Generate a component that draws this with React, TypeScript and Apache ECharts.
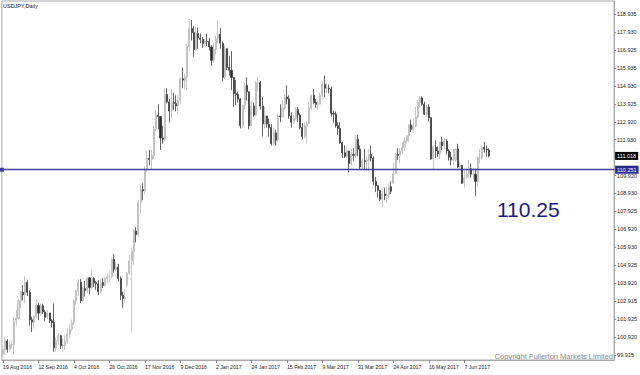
import React, { useEffect, useRef } from 'react';
import * as echarts from 'echarts';

// x-axis tick labels (one every 16 daily bars, MT4 style)
const tickLabels = [
  '19 Aug 2016', '12 Sep 2016', '4 Oct 2016', '26 Oct 2016', '17 Nov 2016', '9 Dec 2016',
  '2 Jan 2017', '24 Jan 2017', '15 Feb 2017', '9 Mar 2017', '31 Mar 2017', '24 Apr 2017',
  '16 May 2017', '7 Jun 2017',
];
const barsPerTick = 16;
const totalSlots = 276;

// y-axis tick values as printed on the price scale
const yTicks = [
  99.915, 100.92, 101.925, 102.915, 103.92, 104.925, 105.93, 106.92, 107.925, 108.93,
  109.92, 111.93, 112.92, 113.925, 114.93, 115.935, 116.925, 117.93, 118.935,
];

const levelLine = 110.251;
const lastPrice = 111.018;

// USDJPY daily OHLC, 19 Aug 2016 .. 22 Jun 2017
const open = [
  99.95, 100.2, 100.7, 100.23, 100.49, 100.5, 101.85, 101.95, 102.95, 103.42,
  103.27, 103.97, 103.42, 101.88, 101.75, 102.07, 102.68, 102.25, 102.66, 102.32,
  102.02, 102.26, 101.83, 101.72, 100.32, 100.72, 100.99, 100.42, 100.45, 100.68,
  101.07, 101.35, 101.72, 102.92, 103.48, 103.98, 102.94, 103.62, 103.52, 104.22,
  103.68, 104.18, 103.95, 103.88, 103.45, 103.95, 103.8, 104.18, 104.28, 104.3,
  105.25, 104.7, 104.82, 104.18, 103.25, 103.07, 103.8, 104.45, 105.17, 105.7,
  106.83, 106.62, 108.43, 109.15, 109.07, 110.23, 110.88, 110.82, 111.04, 112.53,
  113.3, 113.22, 112.02, 111.95, 114.45, 114.03, 113.52, 114.0, 113.95, 113.8,
  114.1, 115.32, 115.25, 115.42, 117.13, 118.12, 117.9, 116.95, 117.85, 117.6,
  117.52, 117.28, 117.42, 117.4, 117.1, 116.35, 116.95, 117.55, 117.8, 117.3,
  115.4, 117.0, 115.95, 115.8, 115.4, 114.5, 114.45, 114.2, 112.7, 113.85,
  114.95, 114.6, 112.7, 113.8, 113.3, 115.1, 115.1, 113.8, 112.8, 113.25,
  112.8, 112.6, 111.7, 112.3, 111.9, 113.25, 113.2, 113.7, 114.3, 114.2,
  113.25, 112.9, 113.1, 113.6, 113.3, 112.6, 112.1, 112.7, 112.8, 113.7,
  114.4, 114.0, 113.9, 113.9, 114.4, 115.0, 114.8, 114.8, 114.75, 113.4,
  113.35, 112.7, 112.55, 111.75, 111.2, 111.0, 111.3, 110.6, 111.1, 111.05,
  111.95, 111.4, 110.4, 110.75, 110.7, 110.8, 111.1, 110.9, 109.6, 109.35,
  109.1, 108.6, 108.9, 108.8, 108.85, 109.3, 109.5, 110.05, 111.1, 111.05,
  111.3, 111.5, 111.85, 112.15, 112.75, 112.5, 112.7, 113.2, 114.0, 114.25,
  113.9, 113.35, 113.75, 113.15, 110.85, 111.5, 111.3, 111.15, 111.8, 111.6,
  111.85, 111.3, 110.95, 110.8, 110.8, 111.4, 110.4, 110.5, 109.5, 109.8,
  110.0, 110.3, 110.0, 110.0, 109.6, 110.9, 110.9, 111.5, 111.4, 111.35,
];
const close = [
  100.22, 100.72, 100.23, 100.49, 100.5, 101.82, 101.95, 102.95, 103.42, 103.27,
  103.97, 103.42, 101.88, 101.75, 102.07, 102.68, 102.25, 102.66, 102.32, 102.02,
  102.26, 101.83, 101.72, 100.32, 100.72, 100.99, 100.42, 100.45, 100.68, 101.07,
  101.35, 101.72, 102.92, 103.48, 103.98, 102.94, 103.62, 103.52, 104.22, 103.68,
  104.18, 103.95, 103.88, 103.45, 103.95, 103.8, 104.18, 104.28, 104.3, 105.25,
  104.7, 104.82, 104.18, 103.25, 103.07, 103.12, 104.45, 105.17, 105.7, 106.83,
  106.62, 108.43, 109.15, 109.07, 110.23, 110.88, 110.82, 111.04, 112.53, 113.3,
  113.22, 112.02, 111.95, 114.45, 114.03, 113.52, 114.0, 113.95, 113.8, 114.1,
  115.32, 115.25, 115.42, 117.13, 118.12, 117.9, 116.95, 117.85, 117.6, 117.52,
  117.28, 117.42, 117.4, 117.1, 116.35, 116.95, 117.55, 117.8, 117.3, 115.4,
  117.0, 115.95, 115.8, 115.4, 114.5, 114.45, 114.2, 112.7, 113.85, 114.95,
  114.6, 112.7, 113.8, 113.3, 115.1, 115.1, 113.8, 112.8, 113.25, 112.8,
  112.6, 111.7, 112.3, 111.9, 113.25, 113.2, 113.7, 114.3, 114.2, 113.25,
  112.9, 113.1, 113.6, 113.3, 112.6, 112.1, 112.7, 112.8, 113.7, 114.4,
  114.0, 113.9, 113.9, 114.4, 115.0, 114.8, 114.8, 114.75, 113.4, 113.35,
  112.7, 112.55, 111.75, 111.2, 111.0, 111.3, 110.6, 111.1, 111.05, 111.95,
  111.4, 110.4, 110.75, 110.7, 110.8, 111.1, 110.9, 109.6, 109.35, 109.1,
  108.6, 108.9, 108.8, 108.85, 109.3, 109.05, 110.05, 111.1, 111.05, 111.3,
  111.5, 111.85, 112.15, 112.75, 112.5, 112.7, 113.2, 114.0, 114.25, 113.9,
  113.35, 113.75, 113.15, 110.85, 111.5, 111.3, 111.15, 111.8, 111.6, 111.85,
  111.3, 110.95, 110.8, 110.8, 111.4, 110.4, 110.5, 109.5, 109.8, 110.0,
  110.3, 110.0, 110.0, 109.6, 110.9, 110.9, 111.5, 111.4, 111.35, 111.02,
];
const low = [
  99.78, 99.95, 100.05, 100.12, 100.28, 99.97, 101.55, 101.9, 102.52, 102.95,
  102.8, 103.2, 101.55, 101.2, 101.4, 101.95, 101.85, 102.1, 102.2, 101.82,
  101.9, 101.7, 101.45, 100.1, 100.1, 100.45, 100.25, 100.08, 100.2, 100.55,
  100.85, 101.25, 101.6, 102.7, 103.2, 102.8, 102.85, 103.18, 103.35, 103.3,
  103.58, 103.7, 103.55, 103.25, 103.35, 103.65, 103.75, 103.9, 103.98, 104.2,
  104.5, 104.58, 104.02, 102.98, 102.55, 102.85, 103.7, 104.4, 101.2, 104.95,
  106.2, 106.5, 107.8, 108.55, 108.9, 110.1, 110.5, 110.25, 110.85, 112.4,
  112.5, 111.35, 111.7, 111.85, 113.95, 112.88, 113.1, 113.6, 113.5, 113.4,
  113.9, 114.8, 114.75, 114.7, 116.85, 117.45, 116.55, 116.9, 117.0, 117.3,
  117.05, 117.15, 117.15, 116.9, 116.05, 116.2, 116.7, 117.3, 117.0, 115.2,
  115.3, 115.8, 115.5, 114.7, 113.75, 113.85, 114.0, 112.55, 112.55, 113.6,
  114.1, 112.5, 112.8, 113.2, 113.25, 114.6, 113.6, 112.1, 112.55, 112.6,
  112.1, 111.6, 111.6, 111.6, 111.8, 112.9, 113.2, 113.6, 113.9, 113.1,
  112.6, 112.8, 113.0, 112.9, 112.5, 111.95, 112.0, 111.7, 112.8, 113.6,
  113.9, 113.7, 113.6, 113.9, 114.2, 114.3, 114.5, 114.5, 113.2, 112.85,
  112.6, 112.2, 111.7, 110.9, 110.9, 110.9, 110.1, 110.5, 110.75, 110.9,
  111.0, 110.25, 110.25, 110.25, 110.2, 110.15, 110.7, 109.4, 109.0, 108.7,
  108.5, 108.13, 108.55, 108.4, 108.7, 108.9, 109.45, 110.0, 110.8, 110.6,
  111.1, 111.3, 111.7, 111.8, 112.35, 112.3, 112.6, 113.1, 113.7, 113.8,
  113.3, 113.2, 112.95, 110.8, 110.25, 110.9, 110.95, 110.85, 111.35, 111.4,
  111.1, 110.75, 110.5, 110.55, 110.7, 110.35, 110.3, 109.45, 109.25, 109.7,
  109.8, 109.8, 109.75, 108.8, 109.3, 110.6, 110.8, 111.2, 110.95, 110.95,
];
const high = [
  100.45, 100.9, 100.8, 100.7, 100.72, 102.02, 102.42, 103.07, 103.5, 103.82,
  104.3, 104.08, 103.53, 102.05, 102.15, 103.05, 102.82, 102.8, 102.78, 102.42,
  102.42, 102.15, 101.92, 102.79, 100.88, 101.12, 101.05, 100.8, 101.0, 101.4,
  101.6, 101.9, 103.0, 103.55, 104.15, 104.15, 103.7, 104.05, 104.25, 104.25,
  104.62, 104.25, 104.05, 104.1, 104.15, 104.22, 104.25, 104.45, 104.6, 105.3,
  105.55, 105.1, 105.0, 104.3, 103.45, 103.6, 104.55, 105.5, 105.9, 106.95,
  107.05, 108.55, 109.35, 109.5, 110.45, 111.35, 111.35, 111.36, 112.7, 113.6,
  113.9, 113.25, 112.7, 114.8, 114.8, 114.2, 114.75, 114.55, 114.4, 114.4,
  115.4, 115.95, 115.6, 117.25, 118.66, 118.6, 118.25, 118.2, 118.18, 117.85,
  117.65, 117.55, 117.85, 117.6, 117.2, 117.3, 117.75, 118.6, 118.15, 117.4,
  117.2, 117.0, 116.6, 116.87, 115.4, 115.25, 114.6, 114.25, 113.85, 115.1,
  115.4, 114.6, 114.1, 114.0, 115.2, 115.4, 115.2, 114.3, 113.75, 113.25,
  113.1, 112.8, 112.6, 112.5, 113.4, 113.9, 114.15, 114.45, 114.95, 114.4,
  113.45, 113.3, 113.75, 113.75, 113.4, 112.85, 112.9, 112.95, 114.05, 114.45,
  114.75, 114.2, 114.1, 114.55, 115.2, 115.5, 115.1, 115.0, 114.9, 113.55,
  113.5, 112.9, 112.9, 111.8, 111.6, 111.5, 111.3, 111.4, 111.45, 112.2,
  112.2, 111.6, 110.9, 111.4, 111.0, 111.4, 111.6, 111.0, 109.85, 109.4,
  109.1, 109.1, 109.25, 109.3, 109.5, 109.6, 110.65, 111.2, 111.45, 111.45,
  111.8, 112.05, 112.2, 112.8, 113.05, 113.1, 113.75, 114.15, 114.37, 114.35,
  114.05, 113.9, 113.9, 113.2, 111.55, 111.9, 111.55, 111.8, 112.1, 112.0,
  111.95, 111.4, 111.25, 111.4, 111.45, 111.7, 110.7, 110.5, 110.2, 110.3,
  110.8, 110.6, 110.35, 110.3, 111.0, 111.4, 111.6, 111.8, 111.6, 111.45,
];

export default function App() {
  const ref = useRef<HTMLDivElement>(null);

  useEffect(() => {
    if (!ref.current) return;
    const chart = echarts.init(ref.current, null, { renderer: 'svg' });
    const categories = Array.from({ length: totalSlots }, (_, i) =>
      i % barsPerTick === 0 && tickLabels[i / barsPerTick] ? tickLabels[i / barsPerTick] : ''
    );
    const ohlc = open.map((o, i) => [o, close[i], low[i], high[i]]);
    const showTick = (index: number) => index % barsPerTick === 0 && !!tickLabels[index / barsPerTick];

    chart.setOption({
      animation: false,
      backgroundColor: '#ffffff',
      textStyle: { fontFamily: 'Liberation Sans, Arial, sans-serif' },
      grid: {
        left: 1,
        right: 25,
        top: 1,
        bottom: 15,
        show: true,
        borderColor: '#a8a8a8',
        borderWidth: 1,
      },
      xAxis: {
        type: 'category',
        data: categories,
        boundaryGap: true,
        axisLine: { show: true, lineStyle: { color: '#a8a8a8', width: 1 } },
        axisTick: {
          show: true,
          interval: (index: number) => showTick(index),
          alignWithLabel: true,
          length: 3,
          lineStyle: { color: '#888888' },
        },
        axisLabel: {
          interval: (index: number) => showTick(index),
          align: 'left',
          fontSize: 5.2,
          color: '#222222',
          margin: 4,
        },
        splitLine: { show: false },
      },
      yAxis: {
        type: 'value',
        position: 'right',
        min: 99.637,
        max: 119.66,
        scale: true,
        axisLine: { show: true, lineStyle: { color: '#a8a8a8' } },
        axisTick: {
          show: true,
          customValues: yTicks,
          length: 2,
          lineStyle: { color: '#888888' },
        },
        axisLabel: {
          customValues: yTicks,
          formatter: (v: number) => v.toFixed(3),
          fontSize: 5.5,
          color: '#222222',
          margin: 3,
        },
        splitLine: { show: false },
      },
      series: [
        {
          type: 'candlestick',
          data: ohlc,
          barWidth: '70%',
          itemStyle: {
            color: '#dadada',
            borderColor: '#b8b8b8',
            color0: '#2a2a2a',
            borderColor0: '#3c3c3c',
            borderWidth: 0.8,
          },
          markLine: {
            silent: true,
            animation: false,
            symbol: ['rect', 'none'],
            symbolSize: 4,
            data: [
              {
                yAxis: levelLine,
                lineStyle: { color: '#40409c', width: 1.4, type: 'solid' },
                label: {
                  show: true,
                  position: 'end',
                  distance: 1,
                  formatter: () => levelLine.toFixed(3),
                  fontSize: 5.5,
                  color: '#ffffff',
                  backgroundColor: '#2a2a8a',
                  padding: [1, 2, 1, 2],
                },
              },
              {
                yAxis: lastPrice,
                symbol: ['none', 'none'],
                lineStyle: { color: 'rgba(0,0,0,0)', width: 0 },
                label: {
                  show: true,
                  position: 'end',
                  distance: 1,
                  formatter: () => lastPrice.toFixed(3),
                  fontSize: 5.5,
                  color: '#ffffff',
                  backgroundColor: '#000000',
                  padding: [1, 2, 1, 2],
                },
              },
            ],
          },
        },
      ],
      graphic: [
        {
          type: 'text',
          left: 3,
          top: 3,
          style: { text: 'USDJPY,Daily', fontSize: 5.5, fill: '#111111', fontFamily: 'Liberation Sans, Arial' },
        },
        {
          type: 'text',
          left: 497,
          top: 199,
          style: { text: '110.25', fontSize: 21, fill: '#1a1a80', fontFamily: 'Liberation Sans, Arial' },
        },
        {
          type: 'text',
          right: 27,
          top: 352,
          style: {
            text: 'Copyright Fullerton Markets Limited',
            fontSize: 7.5,
            fill: '#8a8a8a',
            fontFamily: 'Liberation Sans, Arial',
          },
        },
      ],
    });

    return () => chart.dispose();
  }, []);

  return (
    <div
      ref={ref}
      style={{ position: 'absolute', left: 0, top: 0, width: 640, height: 375, background: '#ffffff' }}
    />
  );
}
